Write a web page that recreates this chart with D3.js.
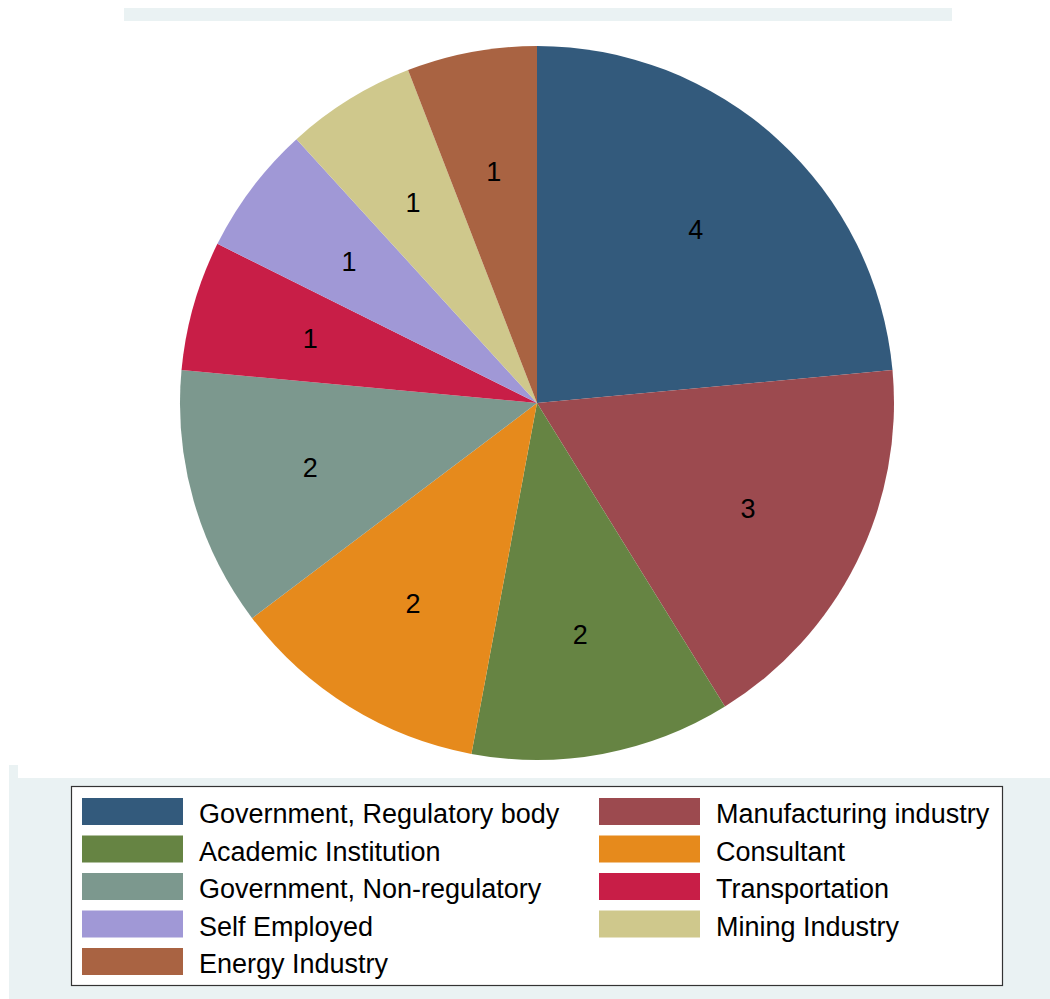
<!DOCTYPE html>
<html>
<head>
<meta charset="utf-8">
<script src="https://cdn.jsdelivr.net/npm/d3@7"></script>
<style>
  body { margin: 0; background: #ffffff; }
  svg { display: block; font-family: "Liberation Sans", Arial, sans-serif; }
</style>
</head>
<body>
<div id="chart"></div>
<script>
// Pie data: categories, counts, colours (legend order)
const categories = [
  "Government, Regulatory body", "Manufacturing industry",
  "Academic Institution", "Consultant",
  "Government, Non-regulatory", "Transportation",
  "Self Employed", "Mining Industry",
  "Energy Industry"
];
const counts = [4, 3, 2, 2, 2, 1, 1, 1, 1];
const colors = [
  "#335a7c", "#9c4a4f", "#668443", "#e68a1c", "#7c988e",
  "#c81e47", "#a098d6", "#cfc88c", "#a96342"
];

const width = 1050, height = 999;
const bg = "#eaf2f3";

const svg = d3.select("#chart").append("svg")
  .attr("width", width).attr("height", height);

// Background pieces (graph region vs plot region)
svg.append("rect").attr("x", 9).attr("y", 765).attr("width", width - 9).attr("height", height - 765).attr("fill", bg);
svg.append("rect").attr("x", 18).attr("y", 0).attr("width", width - 18).attr("height", 778).attr("fill", "#ffffff");
svg.append("rect").attr("x", 124).attr("y", 8).attr("width", 828).attr("height", 13).attr("fill", bg);

// Pie
const cx = 537, cy = 403, radius = 357;
const data = categories.map((c, i) => ({ name: c, value: counts[i], color: colors[i] }));

const pie = d3.pie().value(d => d.value).sort(null);
const arc = d3.arc().innerRadius(0).outerRadius(radius);
const labelArc = d3.arc().innerRadius(radius * 0.66).outerRadius(radius * 0.66);

const g = svg.append("g").attr("transform", `translate(${cx},${cy})`);
const arcs = pie(data);

g.selectAll("path")
  .data(arcs)
  .join("path")
  .attr("d", arc)
  .attr("fill", d => d.data.color);

g.selectAll("text")
  .data(arcs)
  .join("text")
  .attr("transform", d => `translate(${labelArc.centroid(d)})`)
  .attr("text-anchor", "middle")
  .attr("dy", "0.36em")
  .style("font-size", "27px")
  .attr("fill", "#000")
  .text(d => d.data.value);

// Legend
const legend = svg.append("g");
legend.append("rect")
  .attr("x", 71.5).attr("y", 786.5)
  .attr("width", 931).attr("height", 199)
  .attr("fill", "#ffffff")
  .attr("stroke", "#333333")
  .attr("stroke-width", 1.2);

const colX = [82, 599];
const rowY = d3.scaleLinear().domain([0, 1]).range([798, 835.5]);

const items = legend.selectAll("g.item")
  .data(data)
  .join("g")
  .attr("class", "item")
  .attr("transform", (d, i) => `translate(${colX[i % 2]},${rowY(Math.floor(i / 2))})`);

items.append("rect")
  .attr("width", 101).attr("height", 27)
  .attr("fill", d => d.color);

items.append("text")
  .attr("x", 117).attr("y", 15.5)
  .attr("dy", "0.36em")
  .style("font-size", "27px")
  .attr("fill", "#000")
  .text(d => d.name);
</script>
</body>
</html>
